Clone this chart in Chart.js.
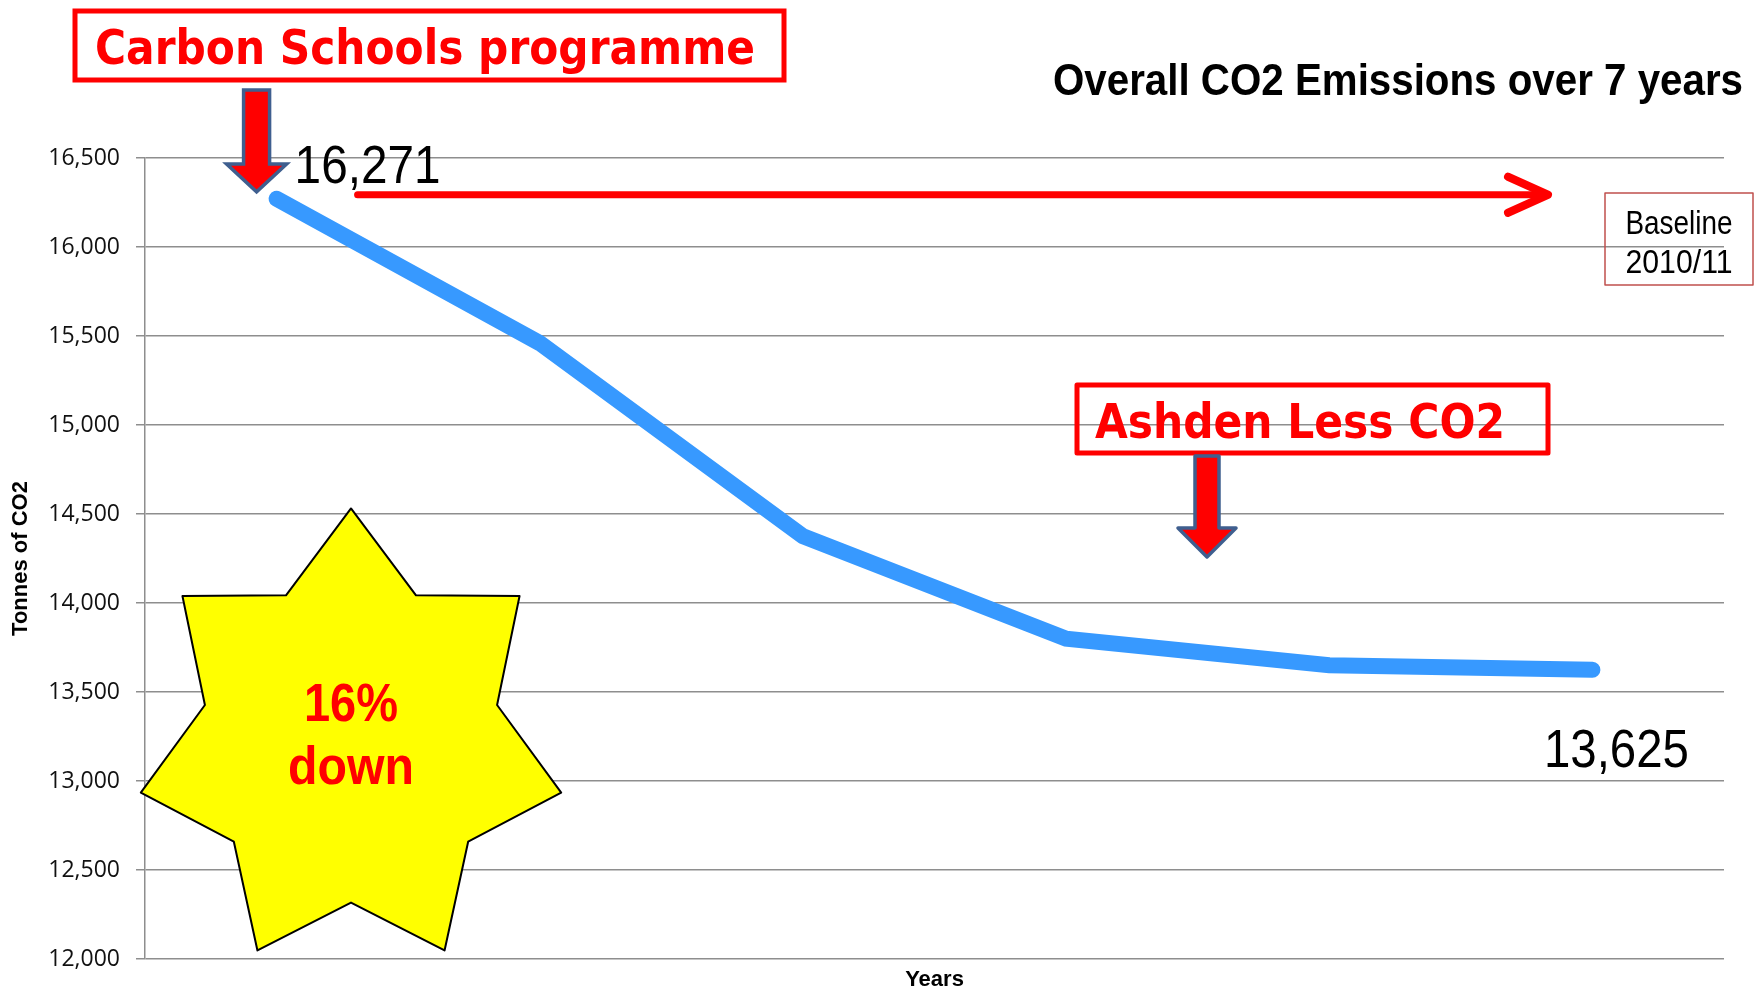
<!DOCTYPE html>
<html>
<head>
<meta charset="utf-8">
<title>Overall CO2 Emissions over 7 years</title>
<script src="https://cdn.jsdelivr.net/npm/chart.js@4.4.0/dist/chart.umd.min.js"></script>
<style>
    body { margin: 0; background: #fff; }
    #wrap { width: 1761px; height: 993px; }
</style>
</head>
<body>
<div id="wrap"><canvas id="myChart" width="1761" height="993"></canvas></div>
<script>
var years = ["2010/11", "2011/12", "2012/13", "2013/14", "2014/15", "2015/16"];
var emissions = [16271, 15460, 14375, 13800, 13650, 13625];
var yMin = 12000;
var yMax = 16500;
var yStep = 500;

var narrow = '"Liberation Sans Narrow", "Liberation Sans", Arial, sans-serif';
var plain = '"Liberation Sans", Arial, sans-serif';
var wide = '"DejaVu Sans", Verdana, sans-serif';

function downArrow(ctx, cx, top, shaftW, headW, headTop, tipY) {
    ctx.beginPath();
    ctx.moveTo(cx - shaftW / 2, top);
    ctx.lineTo(cx + shaftW / 2, top);
    ctx.lineTo(cx + shaftW / 2, headTop);
    ctx.lineTo(cx + headW / 2, headTop);
    ctx.lineTo(cx, tipY);
    ctx.lineTo(cx - headW / 2, headTop);
    ctx.lineTo(cx - shaftW / 2, headTop);
    ctx.closePath();
    ctx.fillStyle = "#ff0000";
    ctx.fill();
    ctx.lineWidth = 3.5;
    ctx.strokeStyle = "#3f5f8f";
    ctx.stroke();
}

function star(ctx, cx, cy, rx, ry, ratio) {
    ctx.beginPath();
    for (var i = 0; i < 14; i++) {
        var a = -Math.PI / 2 + i * Math.PI / 7;
        var k = (i % 2 == 0) ? 1 : ratio;
        var px = cx + Math.cos(a) * rx * k;
        var py = cy + Math.sin(a) * ry * k;
        if (i == 0) ctx.moveTo(px, py); else ctx.lineTo(px, py);
    }
    ctx.closePath();
    ctx.fillStyle = "#ffff00";
    ctx.fill();
    ctx.lineWidth = 2;
    ctx.strokeStyle = "#000";
    ctx.stroke();
}

var notes = {
    id: "notes",
    afterDraw: function (chart) {
        var ctx = chart.ctx;
        var xs = chart.scales.x;
        var ys = chart.scales.y;
        var last = emissions.length - 1;
        var x0 = xs.getPixelForValue(0), y0 = ys.getPixelForValue(emissions[0]);
        var xN = xs.getPixelForValue(last), yN = ys.getPixelForValue(emissions[last]);
        ctx.save();

        // title
        ctx.fillStyle = "#000";
        ctx.textAlign = "right";
        ctx.textBaseline = "alphabetic";
        ctx.font = "bold 44px " + narrow;
        ctx.fillText("Overall CO2 Emissions over 7 years", 1743, 95, 690);

        // Carbon Schools programme
        ctx.lineWidth = 5;
        ctx.strokeStyle = "#ff0000";
        ctx.strokeRect(75, 11, 709, 69);
        ctx.fillStyle = "#ff0000";
        ctx.textAlign = "center";
        ctx.font = "bold 48px " + wide;
        ctx.fillText("Carbon Schools programme", 425, 64, 660);
        downArrow(ctx, x0 - 20, 90, 26, 60, 164, y0 - 7);

        // first value label
        ctx.fillStyle = "#000";
        ctx.textAlign = "left";
        ctx.font = "54px " + narrow;
        ctx.fillText(emissions[0].toLocaleString("en-US"), x0 + 18, y0 - 16, 146);

        // baseline arrow
        var ay = y0 - 4;
        ctx.strokeStyle = "#ff0000";
        ctx.lineWidth = 7;
        ctx.lineCap = "round";
        ctx.lineJoin = "round";
        ctx.beginPath();
        ctx.moveTo(x0 + 81, ay);
        ctx.lineTo(1546, ay);
        ctx.stroke();
        ctx.lineWidth = 8;
        ctx.beginPath();
        ctx.moveTo(1508, ay - 18);
        ctx.lineTo(1548, ay);
        ctx.lineTo(1508, ay + 18);
        ctx.stroke();

        // baseline box
        ctx.lineWidth = 1.5;
        ctx.strokeStyle = "#c0504d";
        ctx.strokeRect(1605, 193, 148, 92);
        ctx.fillStyle = "#000";
        ctx.textAlign = "center";
        ctx.font = "33px " + narrow;
        ctx.fillText("Baseline", 1679, 234, 107);
        ctx.fillText(years[0], 1679, 273, 107);

        // Ashden Less CO2
        ctx.lineWidth = 5;
        ctx.strokeStyle = "#ff0000";
        ctx.strokeRect(1077, 385, 471, 68);
        ctx.fillStyle = "#ff0000";
        ctx.textAlign = "left";
        ctx.font = "bold 48px " + wide;
        ctx.fillText("Ashden Less CO2", 1095, 438, 410);
        downArrow(ctx, 1207, 456, 24, 58, 528, 557);

        // last value label
        ctx.fillStyle = "#000";
        ctx.textAlign = "center";
        ctx.font = "54px " + narrow;
        ctx.fillText(emissions[last].toLocaleString("en-US"), xN + 24, yN + 97, 145);

        // star
        var sx = chart.chartArea.left + 206;
        var sy = ys.getPixelForValue(13225);
        star(ctx, sx, sy, 215.6, 232.5, 0.695);
        var pct = Math.round((1 - emissions[last] / emissions[0]) * 100);
        ctx.fillStyle = "#ff0000";
        ctx.textAlign = "center";
        ctx.font = "bold 54px " + narrow;
        ctx.fillText(pct + "%", sx, sy - 20, 94);
        ctx.fillText("down", sx, sy + 43, 126);

        ctx.restore();
    }
};

new Chart("myChart", {
    type: "line",
    data: {
        labels: years,
        datasets: [{
            data: emissions,
            borderColor: "#3799ff",
            borderWidth: 16,
            borderCapStyle: "round",
            borderJoinStyle: "miter",
            pointRadius: 0,
            tension: 0,
            fill: false
        }]
    },
    options: {
        responsive: false,
        animation: false,
        layout: { padding: { left: 5, top: 158, right: 37, bottom: 0 } },
        plugins: {
            legend: { display: false },
            tooltip: { enabled: false }
        },
        scales: {
            x: {
                offset: true,
                grid: { display: false },
                border: { display: false },
                ticks: { display: false },
                title: {
                    display: true,
                    text: "Years",
                    color: "#000",
                    font: { family: plain, size: 22, weight: "bold" },
                    padding: { top: 0, bottom: 0 }
                },
                afterFit: function (scale) { scale.height = 34; }
            },
            y: {
                min: yMin,
                max: yMax,
                ticks: {
                    stepSize: yStep,
                    color: "#111",
                    padding: 16,
                    font: { family: '"Open Sans", "Liberation Sans", sans-serif', size: 23 },
                    callback: function (v) { return v.toLocaleString("en-US"); }
                },
                grid: { color: "#8e8e8e", lineWidth: 1.5, tickLength: 9 },
                border: { color: "#8e8e8e", width: 1.5 },
                title: {
                    display: true,
                    text: "Tonnes of CO2",
                    color: "#000",
                    font: { family: plain, size: 22, weight: "bold" },
                    padding: { top: 3, bottom: 0 }
                },
                afterFit: function (scale) { scale.width = 140; }
            }
        }
    },
    plugins: [notes]
});
</script>
</body>
</html>
